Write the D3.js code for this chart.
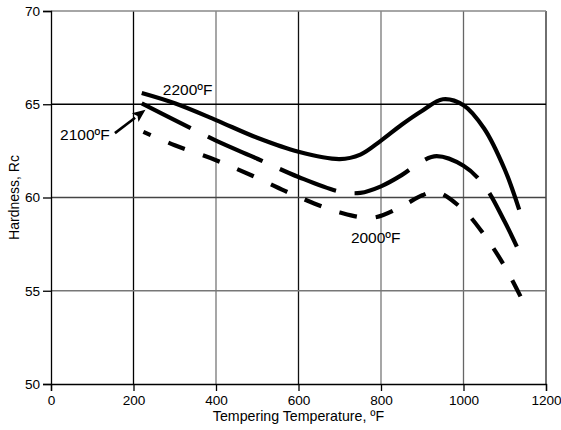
<!DOCTYPE html>
<html>
<head>
<meta charset="utf-8">
<script src="https://cdn.jsdelivr.net/npm/d3@7/dist/d3.min.js"></script>
<style>
  html, body { margin: 0; padding: 0; background: #fff; }
  svg { display: block; font-family: "Liberation Sans", Arial, sans-serif; }
</style>
</head>
<body>
<svg id="chart" width="561" height="430"></svg>
<script>
// Tempering response of the steel for three hardening temperatures
const temp2200 = [220, 300, 400, 500, 600, 700, 750, 800, 850, 900, 950, 1000, 1050, 1100, 1135];
const hard2200 = [65.6, 65.05, 64.15, 63.2, 62.45, 62.06, 62.3, 63.05, 63.9, 64.65, 65.27, 64.95, 63.7, 61.5, 59.35];

const temp2100 = [220, 300, 400, 500, 600, 700, 750, 800, 850, 900, 935, 1000, 1050, 1100, 1135];
const hard2100 = [65.05, 64.15, 63.05, 62.08, 61.1, 60.32, 60.25, 60.6, 61.2, 61.95, 62.22, 61.7, 60.65, 58.7, 57.1];

const temp2000 = [224, 300, 400, 500, 600, 700, 780, 850, 900, 935, 1000, 1050, 1100, 1146];
const hard2000 = [63.52, 62.8, 62.0, 61.05, 60.03, 59.2, 58.92, 59.52, 60.12, 60.3, 59.33, 58.0, 56.3, 54.35];

const xTicks = [0, 200, 400, 600, 800, 1000, 1200];
const yTicks = [50, 55, 60, 65, 70];

const seriesNames = ["2200ºF", "2100ºF", "2000ºF"];

// Curve label anchors (temperature, hardness at text baseline)
const labelTemp = [271, 22, 727];
const labelHard = [65.5, 63.08, 57.56];

// Pointer from the 2100ºF label to its curve: [tail, tip]
const arrowTemp = [155, 229];
const arrowHard = [63.45, 64.7];

const svg = d3.select("#chart");
const margin = { left: 51, top: 11, right: 15, bottom: 46 };
const W = 561, H = 430;

const x = d3.scaleLinear().domain([0, 1200]).range([margin.left, W - margin.right]);
const y = d3.scaleLinear().domain([50, 70]).range([H - margin.bottom, margin.top]);

// Grid lines (drawn in mixed shades of grey/black)
const vGridColor = { 200: "#000", 400: "#777", 600: "#111", 800: "#777", 1000: "#666", 1200: "#222" };
const hGridColor = { 55: "#777", 60: "#444", 65: "#000", 70: "#888" };

const grid = svg.append("g");
grid.selectAll("line.v")
  .data(xTicks.filter(t => t > 0))
  .join("line")
  .attr("class", "v")
  .attr("x1", d => x(d)).attr("x2", d => x(d))
  .attr("y1", y(70)).attr("y2", y(50))
  .attr("stroke", d => vGridColor[d])
  .attr("stroke-width", 1.3);

grid.selectAll("line.h")
  .data(yTicks.filter(t => t > 50))
  .join("line")
  .attr("class", "h")
  .attr("x1", x(0)).attr("x2", x(1200))
  .attr("y1", d => y(d)).attr("y2", d => y(d))
  .attr("stroke", d => hGridColor[d])
  .attr("stroke-width", 1.3);

// Axes
const xAxis = svg.append("g")
  .attr("transform", `translate(0,${y(50)})`)
  .call(d3.axisBottom(x).tickValues(xTicks).tickSize(7).tickPadding(4).tickFormat(d3.format("d")));
const yAxis = svg.append("g")
  .attr("transform", `translate(${x(0)},0)`)
  .call(d3.axisLeft(y).tickValues(yTicks).tickSize(8).tickPadding(3).tickFormat(d3.format("d")));

[xAxis, yAxis].forEach(a => {
  a.select(".domain").attr("stroke", "#000").attr("stroke-width", 1.3);
  a.selectAll(".tick line").attr("stroke", "#000").attr("stroke-width", 1.3);
  a.selectAll(".tick text")
    .attr("fill", "#000")
    .style("font-family", "'Liberation Sans', Arial, sans-serif")
    .style("font-size", "13.6px");
});

// Axis titles
svg.append("text")
  .attr("x", x(600))
  .attr("y", 421)
  .attr("text-anchor", "middle")
  .style("font-size", "14.2px")
  .text("Tempering Temperature, ºF");

svg.append("text")
  .attr("transform", `translate(19,${(y(50) + y(70)) / 2}) rotate(-90)`)
  .attr("text-anchor", "middle")
  .style("font-size", "14px")
  .text("Hardness, Rc");

// Curves
const line = d3.line()
  .x(d => x(d[0]))
  .y(d => y(d[1]))
  .curve(d3.curveCatmullRom.alpha(0.5));

const series = [
  { t: temp2200, h: hard2200, dash: null, offset: 0 },
  { t: temp2100, h: hard2100, dash: "60 19", offset: 5 },
  { t: temp2000, h: hard2000, dash: "18 19", offset: 10 }
];

svg.append("g").selectAll("path")
  .data(series)
  .join("path")
  .attr("d", s => line(s.t.map((t, i) => [t, s.h[i]])))
  .attr("fill", "none")
  .attr("stroke", "#000")
  .attr("stroke-width", 4.2)
  .attr("stroke-linecap", "butt")
  .attr("stroke-dasharray", s => s.dash)
  .attr("stroke-dashoffset", s => s.offset);

// Curve labels
svg.append("g").selectAll("text")
  .data(seriesNames)
  .join("text")
  .attr("x", (d, i) => x(labelTemp[i]))
  .attr("y", (d, i) => y(labelHard[i]))
  .style("font-size", "15.5px")
  .text(d => d);

// Arrow pointing at the 2100ºF curve
const ax0 = x(arrowTemp[0]), ay0 = y(arrowHard[0]);
const ax1 = x(arrowTemp[1]), ay1 = y(arrowHard[1]);
const ang = Math.atan2(ay1 - ay0, ax1 - ax0);
const headLen = 13, headHalf = 5.5;
const bx = ax1 - headLen * Math.cos(ang), by = ay1 - headLen * Math.sin(ang);
svg.append("line")
  .attr("x1", ax0).attr("y1", ay0)
  .attr("x2", bx).attr("y2", by)
  .attr("stroke", "#000").attr("stroke-width", 2.6);
svg.append("path")
  .attr("d", d3.line()([
    [ax1, ay1],
    [bx + headHalf * Math.sin(ang), by - headHalf * Math.cos(ang)],
    [bx + 3 * Math.cos(ang), by + 3 * Math.sin(ang)],
    [bx - headHalf * Math.sin(ang), by + headHalf * Math.cos(ang)]
  ]) + "Z")
  .attr("fill", "#000");
</script>
</body>
</html>
